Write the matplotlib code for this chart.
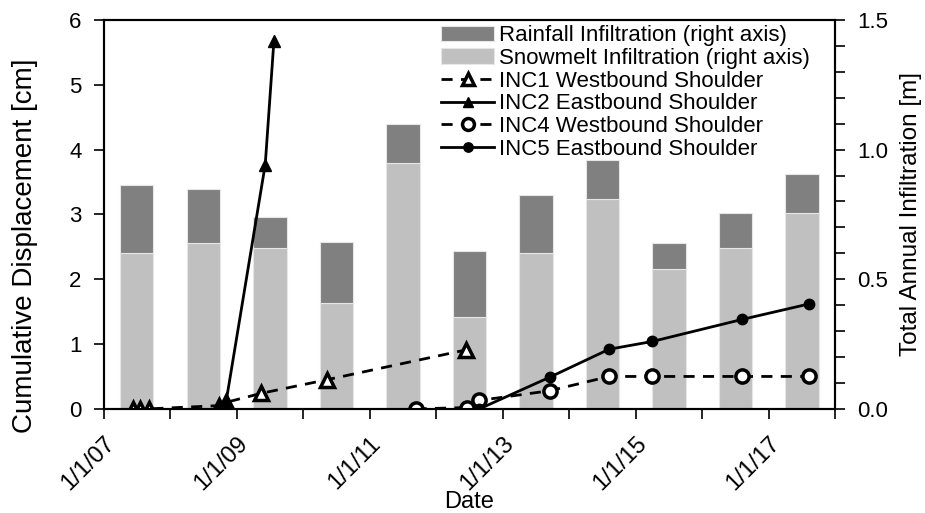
import matplotlib
matplotlib.use("Agg")
import matplotlib.pyplot as plt
import numpy as np

plt.rcParams['font.family'] = ['Liberation Sans', 'DejaVu Sans']

# annual infiltration (m), bars centred mid-year
bar_years = [2007.5, 2008.5, 2009.5, 2010.5, 2011.5, 2012.5,
             2013.5, 2014.5, 2015.5, 2016.5, 2017.5]
snowmelt = [0.60, 0.64, 0.62, 0.41, 0.95, 0.355, 0.60, 0.81, 0.54, 0.62, 0.755]
total = [0.865, 0.85, 0.74, 0.645, 1.10, 0.61, 0.825, 0.96, 0.64, 0.755, 0.905]
rainfall = [t - s for t, s in zip(total, snowmelt)]

# inclinometer readings: decimal year, cumulative displacement (cm)
inc1_x = [2007.44, 2007.54, 2007.68, 2008.74, 2008.84, 2009.37, 2010.36, 2012.45]
inc1_y = [0.0, 0.0, 0.0, 0.05, 0.10, 0.24, 0.45, 0.91]
inc2_x = [2008.74, 2008.84, 2009.43, 2009.56]
inc2_y = [0.0, 0.10, 3.77, 5.67]
inc4_x = [2011.69, 2012.46, 2012.65, 2013.71, 2014.60, 2015.25, 2016.60, 2017.61]
inc4_y = [0.0, 0.02, 0.13, 0.28, 0.50, 0.50, 0.50, 0.50]
inc5_x = [2012.65, 2013.71, 2014.60, 2015.25, 2016.60, 2017.61]
inc5_y = [0.0, 0.49, 0.92, 1.04, 1.38, 1.62]

tick_years = [2007, 2009, 2011, 2013, 2015, 2017]
tick_labels = ['1/1/07', '1/1/09', '1/1/11', '1/1/13', '1/1/15', '1/1/17']

fig = plt.figure(figsize=(9.25, 5.13), dpi=100)
ax = fig.add_axes([0.112, 0.203, 0.791, 0.758])
ax2 = ax.twinx()

b1 = ax2.bar(bar_years, snowmelt, width=0.5, color='#c0c0c0', edgecolor='#e6e6e6', linewidth=0.8,
             label='Snowmelt Infiltration (right axis)')
b2 = ax2.bar(bar_years, rainfall, width=0.5, bottom=snowmelt, color='#808080', edgecolor='#e6e6e6',
             linewidth=0.8, label='Rainfall Infiltration (right axis)')

dash = (0, (4, 3))
l1, = ax.plot(inc1_x, inc1_y, color='black', lw=2, linestyle=dash, marker='^', ms=10,
              mfc='white', mec='black', mew=2.5, label='INC1 Westbound Shoulder')
l2, = ax.plot(inc2_x, inc2_y, color='black', lw=2, marker='^', ms=8,
              mfc='black', mec='black', label='INC2 Eastbound Shoulder')
l4, = ax.plot(inc4_x, inc4_y, color='black', lw=2, linestyle=dash, marker='o', ms=9.5,
              mfc='white', mec='black', mew=2.5, label='INC4 Westbound Shoulder')
l5, = ax.plot(inc5_x, inc5_y, color='black', lw=2, marker='o', ms=7.5,
              mfc='black', mec='black', label='INC5 Eastbound Shoulder')

ax.set_zorder(ax2.get_zorder() + 1)
ax.patch.set_visible(False)

ax.set_xlim(2007, 2018)
ax.set_ylim(0, 6)
ax2.set_ylim(0, 1.5)
ax.set_yticks(range(7))
ax2.set_yticks(np.arange(0, 1.51, 0.5))
ax2.set_yticks(np.arange(0, 1.51, 0.1), minor=True)
ax2.set_yticklabels(['0.0', '0.5', '1.0', '1.5'])
ax.set_xticks(tick_years)
ax.set_xticks(range(2007, 2019), minor=True)
ax.set_xticklabels(tick_labels, rotation=45, ha='right', rotation_mode='anchor')

for a in (ax, ax2):
    a.tick_params(which='both', direction='out', length=7, width=1.2, labelsize=16, color='black')
    for s in a.spines.values():
        s.set_linewidth(1.5)
ax.tick_params(axis='x', which='both', pad=10, labelsize=17)
ax.tick_params(axis='y', pad=9)
ax2.tick_params(axis='y', which='both', pad=9)

ax.set_xlabel('Date', fontsize=17)
ax.xaxis.set_label_coords(0.5, -0.21)
ax.set_ylabel('Cumulative Displacement [cm]', fontsize=20)
ax.yaxis.set_label_coords(-0.089, 0.42)
ax2.set_ylabel('Total Annual Infiltration [m]', fontsize=17.5, labelpad=8)

ax.legend(handles=[b2, b1, l1, l2, l4, l5], loc='upper right', bbox_to_anchor=(0.965, 0.987),
          frameon=False, fontsize=16, labelspacing=0.08, handlelength=2.4, handletextpad=0.2,
          borderpad=0, borderaxespad=0, markerscale=0.9)

fig.savefig('out.png', dpi=100)
